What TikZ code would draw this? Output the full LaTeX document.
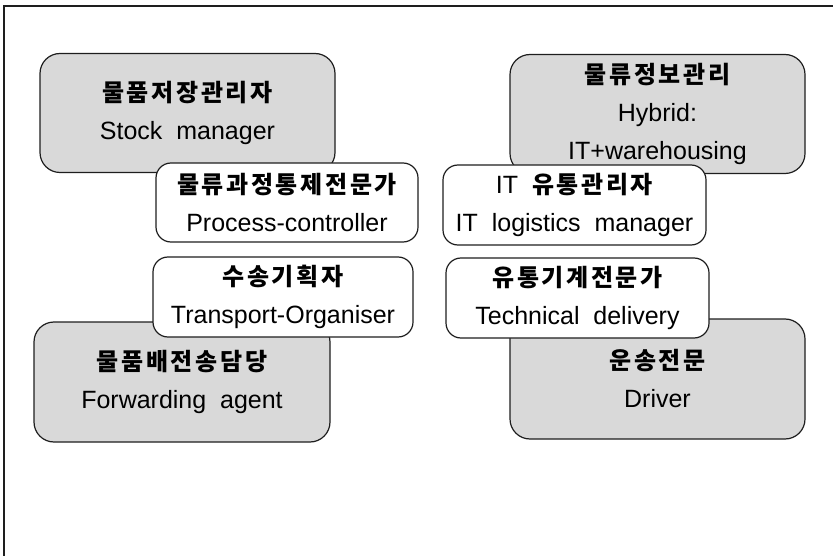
\documentclass[tikz,border=0pt]{standalone}
\usepackage{fontspec}
\setmainfont{Liberation Sans}
\newfontfamily\kr[LetterSpace=11]{Noto Sans CJK KR}
\definecolor{boxgray}{RGB}{217,217,217}
\definecolor{edge}{RGB}{30,30,30}
\newcommand\krt[1]{{\fontsize{24}{38}\selectfont\kr\bfseries #1}}
\begin{document}
\begin{tikzpicture}[x=1pt,y=-1pt,
  basebox/.style={draw=edge, line width=1.2pt, inner sep=0pt, align=center,
    font=\fontsize{25}{38}\selectfont},
  gbox/.style={basebox, fill=boxgray, rounded corners=20pt},
  wbox/.style={basebox, fill=white, rounded corners=15pt}]
\useasboundingbox (0,0) rectangle (833,556);
\coordinate (tl) at (4,6);
\coordinate (tr) at (833,6);
\coordinate (bl) at (4,556);
\draw[line width=1.3pt, draw=edge] (tr) -- (tl) -- (bl);

% gray boxes
\node[gbox, minimum width=295pt, minimum height=119pt] (sm) at (187.5,113)
  {\krt{물품저장관리자}\\Stock~~manager};
\node[gbox, minimum width=295pt, minimum height=119pt] (hy) at (657.5,114)
  {\krt{물류정보관리}\\Hybrid:\\IT+warehousing};
\node[gbox, minimum width=296pt, minimum height=120pt] (fa) at (182,382)
  {\krt{물품배전송담당}\\Forwarding~~agent};
\node[gbox, minimum width=295pt, minimum height=120pt] (dr) at (657.5,379)
  {\krt{운송전문}\\Driver};

% white boxes
\node[wbox, minimum width=262pt, minimum height=79pt] (pc) at (287,202.5)
  {\krt{물류과정통제전문가}\\Process-controller};
\node[wbox, minimum width=263pt, minimum height=80pt] (it) at (574.5,205)
  {IT~~\krt{유통관리자}\\IT~~logistics~~manager};
\node[wbox, minimum width=260pt, minimum height=80pt] (to) at (283,297)
  {\krt{수송기획자}\\Transport-Organiser};
\node[wbox, minimum width=263pt, minimum height=80pt] (td) at (577.5,298)
  {\krt{유통기계전문가}\\Technical~~delivery};
\end{tikzpicture}
\end{document}
